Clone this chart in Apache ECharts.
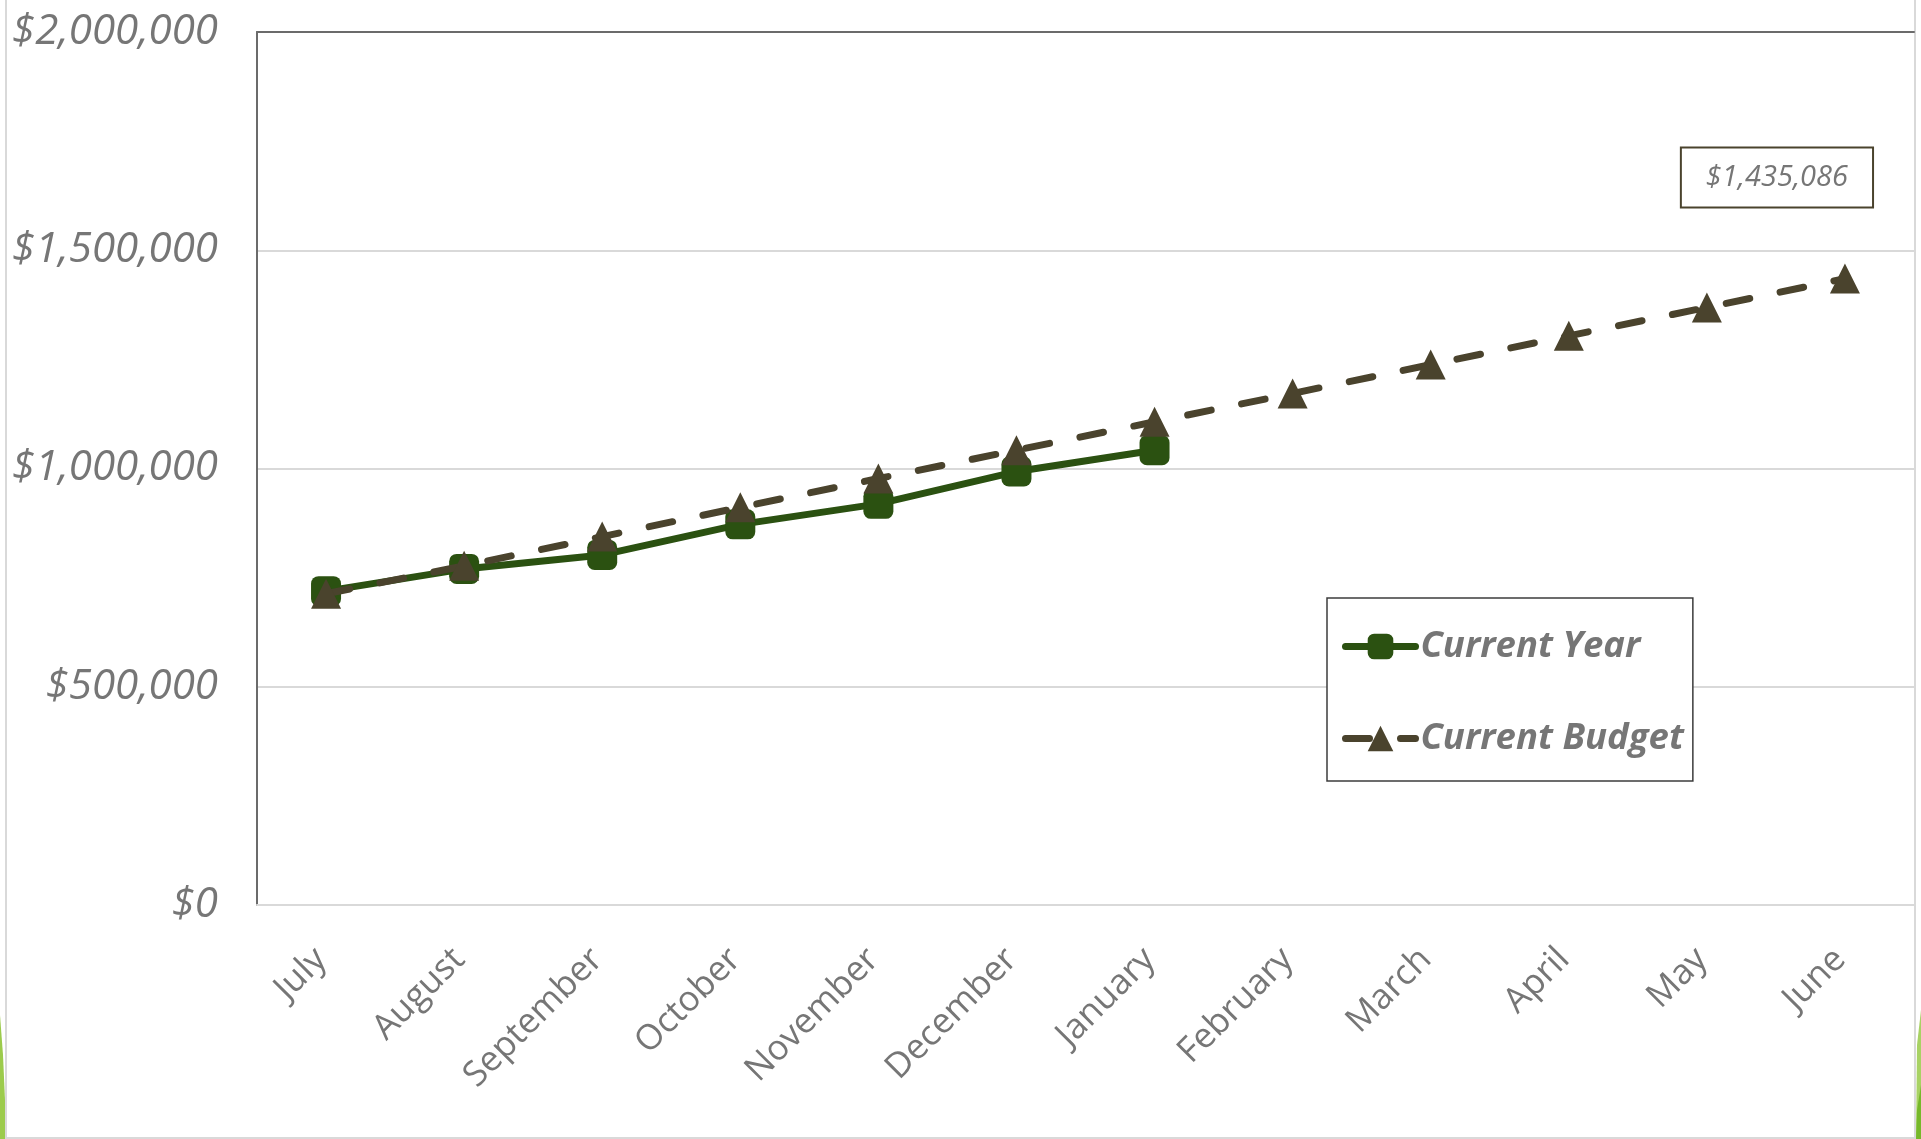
<!DOCTYPE html>
<html>
<head>
<meta charset="utf-8">
<title>Current Year vs Current Budget</title>
<script src="https://cdn.jsdelivr.net/npm/echarts@6/dist/echarts.min.js"></script>
<style>
  html, body { margin: 0; padding: 0; background: #ffffff; }
  #chart { width: 1921px; height: 1139px; }
</style>
</head>
<body>
<div id="chart"></div>
<script>
// Fiscal-year months, July through June
const months = ['July', 'August', 'September', 'October', 'November', 'December',
                'January', 'February', 'March', 'April', 'May', 'June'];

// Cumulative actuals (months reported so far)
const currentYear = [719000, 770000, 802000, 872000, 919000, 993000, 1042000];

// Cumulative budget for the full year
const currentBudget = [713000, 777000, 844000, 911000, 977000, 1042000, 1107000,
                       1172000, 1238000, 1304000, 1369000, 1435086];

// Value axis ticks
const yMin = 0;
const yMax = 2000000;
const yStep = 500000;

const GREEN = '#2b5111';
const OLIVE = '#4a432d';
const LABEL_GRAY = '#767676';
const GRID_GRAY = '#d9d9d9';

function money(v) {
  return '$' + Math.round(v).toLocaleString('en-US');
}

const chart = echarts.init(document.getElementById('chart'), null, { renderer: 'canvas' });

const lastIdx = currentBudget.length - 1;

chart.setOption({
  animation: false,
  backgroundColor: '#ffffff',
  grid: { left: 257, right: 7, top: 32, bottom: 234, containLabel: false },
  xAxis: [
    {
      type: 'category',
      data: months,
      boundaryGap: true,
      axisLine: { show: true, lineStyle: { color: GRID_GRAY, width: 2 } },
      axisTick: { show: false },
      axisLabel: {
        interval: 0,
        rotate: 45,
        margin: 54,
        verticalAlign: 'bottom',
        lineHeight: 14,
        color: LABEL_GRAY,
        fontFamily: 'Open Sans',
        fontSize: 35
      }
    },
    {
      // top frame edge of the plot area
      type: 'category',
      data: months,
      position: 'top',
      axisLine: { show: true, lineStyle: { color: '#6b6b6b', width: 2 } },
      axisTick: { show: false },
      axisLabel: { show: false },
      splitLine: { show: false }
    }
  ],
  yAxis: {
    type: 'value',
    min: yMin,
    max: yMax,
    interval: yStep,
    axisLine: { show: true, lineStyle: { color: '#6b6b6b', width: 2 } },
    axisTick: { show: false },
    splitLine: { show: true, lineStyle: { color: GRID_GRAY, width: 2 } },
    axisLabel: {
      margin: 39,
      color: LABEL_GRAY,
      fontFamily: 'Open Sans',
      fontStyle: 'italic',
      fontSize: 42,
      formatter: v => money(v)
    }
  },
  legend: {
    left: 1327,
    top: 598,
    orient: 'vertical',
    padding: [30, 9, 24, 15],
    itemGap: 55,
    itemWidth: 70,
    itemHeight: 32,
    borderColor: '#3c3c3c',
    borderWidth: 1.5,
    backgroundColor: '#ffffff',
    lineStyle: { width: 7, cap: 'round' },
    textStyle: {
      color: LABEL_GRAY,
      fontFamily: 'Open Sans',
      fontStyle: 'italic',
      fontWeight: 'bold',
      fontSize: 36.5
    },
    data: ['Current Year', 'Current Budget']
  },
  series: [
    {
      name: 'Current Year',
      type: 'line',
      data: currentYear,
      symbol: 'roundRect',
      symbolSize: 30,
      lineStyle: { color: GREEN, width: 7 },
      itemStyle: { color: GREEN },
      z: 2
    },
    {
      name: 'Current Budget',
      type: 'line',
      data: currentBudget.map((v, i) => i === lastIdx ? {
        value: v,
        label: {
          show: true,
          position: 'top',
          distance: 57,
          offset: [-68, 0],
          formatter: p => money(p.value),
          color: LABEL_GRAY,
          fontFamily: 'Open Sans',
          fontStyle: 'italic',
          fontSize: 29,
          lineHeight: 34,
          padding: [12, 24],
          backgroundColor: '#ffffff',
          borderColor: OLIVE,
          borderWidth: 2
        }
      } : v),
      symbol: 'triangle',
      symbolSize: 30,
      lineStyle: { color: OLIVE, width: 7, type: [24, 31], cap: 'round' },
      itemStyle: { color: OLIVE },
      z: 3
    }
  ],
  graphic: [
    // slide frame edges
    { type: 'line', shape: { x1: 6, y1: 0, x2: 6, y2: 1139 }, style: { stroke: GRID_GRAY, lineWidth: 2 }, silent: true },
    { type: 'line', shape: { x1: 1915, y1: 0, x2: 1915, y2: 1139 }, style: { stroke: GRID_GRAY, lineWidth: 2 }, silent: true },
    { type: 'line', shape: { x1: 6, y1: 1138, x2: 1915, y2: 1138 }, style: { stroke: GRID_GRAY, lineWidth: 2 }, silent: true },
    // green corner accents
    { type: 'polygon', shape: { points: [[0, 1015], [3, 1055], [5, 1100], [5, 1139], [0, 1139]] },
      style: { fill: '#9ccb4c' }, silent: true },
    { type: 'polygon', shape: { points: [[1921, 1010], [1917, 1045], [1916, 1139], [1921, 1139]] },
      style: { fill: '#a8d264' }, silent: true },
    { type: 'polygon', shape: { points: [[1921, 1085], [1917, 1110], [1916, 1139], [1921, 1139]] },
      style: { fill: '#76b82a' }, silent: true }
  ]
});
</script>
</body>
</html>
